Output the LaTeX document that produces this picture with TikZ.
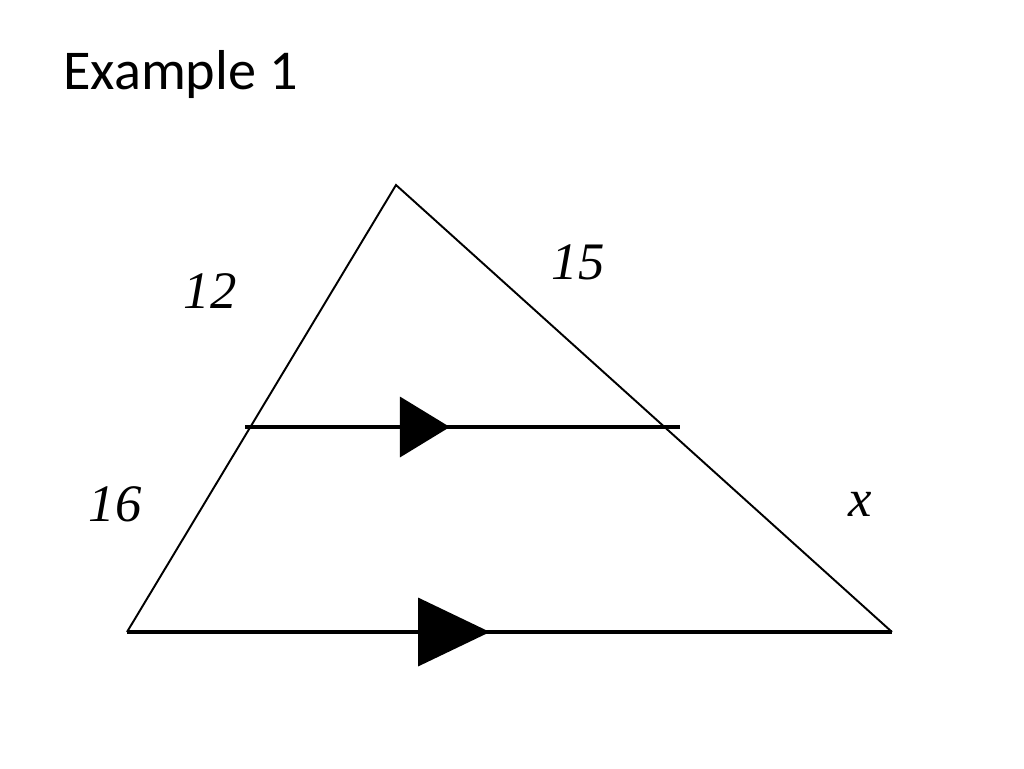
\documentclass[tikz,border=0pt]{standalone}
\usepackage{fontspec}
\setmainfont{Liberation Serif}
\newfontfamily\titlefont{Carlito}
\usetikzlibrary{arrows.meta,decorations.markings}

\tikzset{
  side/.style={line width=1.1pt},
  parline/.style={line width=2.2pt},
  sidelabel/.style={font=\fontsize{30}{32}\selectfont\itshape, inner sep=0pt},
}

\begin{document}
\begin{tikzpicture}[x=0.02cm,y=-0.02cm]
  \useasboundingbox (0,0) rectangle (1024,768);

  \node [font=\titlefont\fontsize{32}{36}\selectfont, anchor=west, inner sep=0pt] (title) at (63,75) {Example 1};

  % triangle
  \coordinate (A) at (396,185);
  \coordinate (B) at (127,632);
  \coordinate (C) at (892,632);
  \coordinate (P) at (245,427);
  \coordinate (Q) at (680,427);

  \draw[side, line join=miter] (B) -- (A) -- (C);

  % parallel lines with arrow marks
  \draw[parline, postaction={decorate},
        decoration={markings, mark=at position 0.471 with {\arrow{Triangle[length=1cm,width=1.2cm]}}}]
        (P) -- (Q);
  \draw[parline, postaction={decorate},
        decoration={markings, mark=at position 0.4745 with {\arrow{Triangle[length=1.44cm,width=1.36cm]}}}]
        (B) -- (C);

  % lengths
  \node [sidelabel] (l12) at (210,291) {12};
  \node [sidelabel] (l15) at (578,262) {15};
  \node [sidelabel] (l16) at (115,504) {16};
  \node [sidelabel] (lx) at (860,504) {x};
\end{tikzpicture}
\end{document}
